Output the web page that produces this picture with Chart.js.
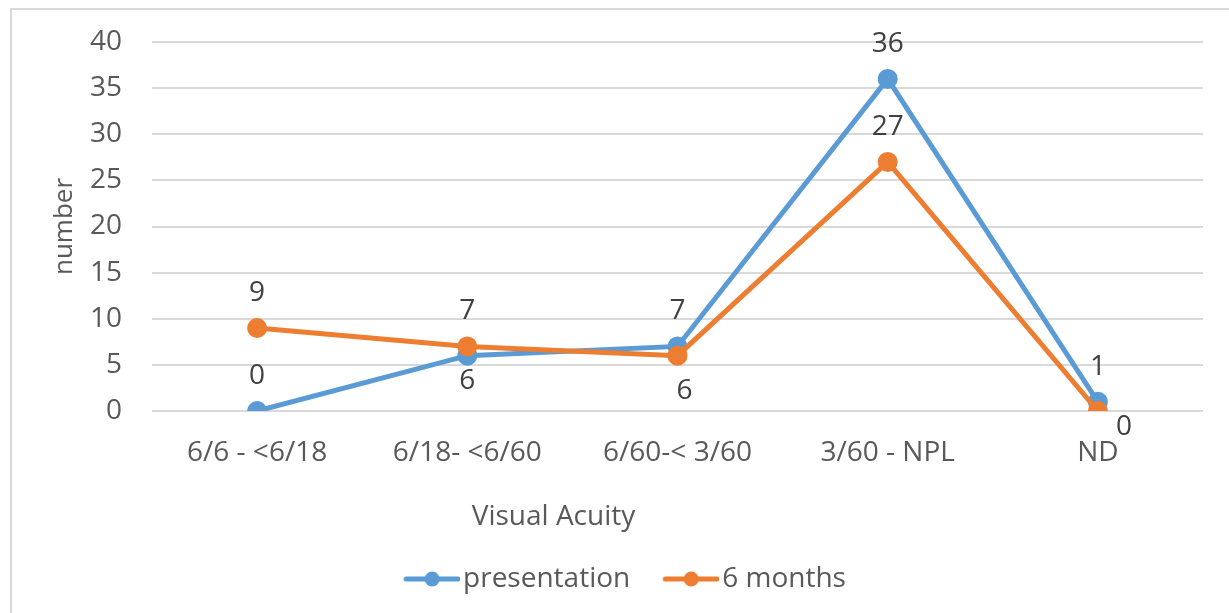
<!DOCTYPE html>
<html lang="en">
<head>
    <meta charset="UTF-8">
    <title>Visual Acuity</title>
    <script src="https://cdn.jsdelivr.net/npm/chart.js"></script>
    <style>
        body {
            margin: 0;
            background: #ffffff;
            overflow: hidden;
        }

        .chart-container {
            position: absolute;
            left: 10px;
            top: 8px;
            width: 1240px;
            height: 620px;
            border: 2px solid #d9d9d9;
        }
    </style>
</head>
<body>
    <div class="chart-container">
        <canvas id="acuityChart"></canvas>
    </div>

    <script>
        // chart data
        const categories = ['6/6 - <6/18', '6/18- <6/60', '6/60-< 3/60', '3/60 - NPL', 'ND'];
        const presentation = [0, 6, 7, 36, 1];
        const sixMonths = [9, 7, 6, 27, 0];
        const yTicks = [0, 5, 10, 15, 20, 25, 30, 35, 40];

        // where each value label sits next to its point
        const presentationLabelPos = ['top', 'bottom', 'top', 'top', 'top'];
        const sixMonthsLabelPos = ['top', 'top', 'bottomFar', 'top', 'bottomRight'];

        const FONT = "'Open Sans', sans-serif";

        // line-with-dot marker for the legend (drawn in the right part of the image
        // so it sits close to the text)
        function legendMarker(color) {
            const c = document.createElement('canvas');
            c.width = 70;
            c.height = 18;
            const g = c.getContext('2d');
            g.strokeStyle = color;
            g.lineWidth = 5;
            g.lineCap = 'round';
            g.beginPath();
            g.moveTo(16, 9);
            g.lineTo(68, 9);
            g.stroke();
            g.fillStyle = color;
            g.beginPath();
            g.arc(42, 9, 7.5, 0, Math.PI * 2);
            g.fill();
            return c;
        }

        // draws the numbers beside the points
        const valueLabels = {
            id: 'valueLabels',
            afterDatasetsDraw(chart) {
                const ctx = chart.ctx;
                ctx.save();
                ctx.font = '28px ' + FONT;
                ctx.fillStyle = '#404040';
                ctx.textAlign = 'center';
                ctx.textBaseline = 'middle';
                chart.data.datasets.forEach((ds, i) => {
                    const meta = chart.getDatasetMeta(i);
                    meta.data.forEach((pt, j) => {
                        const pos = ds.labelPos[j];
                        let x = pt.x, y = pt.y;
                        if (pos === 'top') y -= 35;
                        else if (pos === 'bottom') y += 25;
                        else if (pos === 'bottomFar') { x += 7; y += 35; }
                        else if (pos === 'bottomRight') { x += 26; y += 16; }
                        ctx.fillText(String(ds.data[j]), x, y);
                    });
                });
                ctx.restore();
            }
        };

        // x axis title, placed like the original (left of centre)
        const xTitle = {
            id: 'xTitle',
            afterDraw(chart) {
                const ctx = chart.ctx;
                const area = chart.chartArea;
                ctx.save();
                ctx.font = '28px ' + FONT;
                ctx.fillStyle = '#595959';
                ctx.textAlign = 'center';
                ctx.textBaseline = 'middle';
                ctx.fillText('Visual Acuity', area.left + area.width * 0.382, area.bottom + 106);
                ctx.restore();
            }
        };

        const ctx = document.getElementById('acuityChart').getContext('2d');
        new Chart(ctx, {
            type: 'line',
            data: {
                labels: categories,
                datasets: [{
                    label: 'presentation',
                    data: presentation,
                    labelPos: presentationLabelPos,
                    order: 1,
                    borderColor: '#5b9bd5',
                    backgroundColor: '#5b9bd5',
                    borderWidth: 5,
                    pointRadius: 7.5,
                    pointHoverRadius: 7.5
                }, {
                    label: '6 months',
                    data: sixMonths,
                    labelPos: sixMonthsLabelPos,
                    order: 0,   // drawn on top, as in the original
                    borderColor: '#ed7d31',
                    backgroundColor: '#ed7d31',
                    borderWidth: 5,
                    pointRadius: 7.5,
                    pointHoverRadius: 7.5
                }]
            },
            options: {
                responsive: true,
                maintainAspectRatio: false,
                animation: false,
                layout: {
                    padding: { top: 32, right: 49, bottom: 27, left: 32 }
                },
                plugins: {
                    tooltip: { enabled: false },
                    legend: {
                        position: 'bottom',
                        labels: {
                            usePointStyle: true,
                            pointStyleWidth: 48,
                            color: '#595959',
                            font: { family: FONT, size: 28 },
                            padding: 30,
                            generateLabels(chart) {
                                return chart.data.datasets.map((ds, i) => ({
                                    text: ds.label,
                                    pointStyle: legendMarker(ds.borderColor),
                                    fontColor: '#595959',
                                    strokeStyle: ds.borderColor,
                                    fillStyle: ds.borderColor,
                                    lineWidth: 0,
                                    hidden: false,
                                    datasetIndex: i
                                }));
                            }
                        }
                    }
                },
                scales: {
                    x: {
                        offset: true,
                        grid: { display: false, drawTicks: false },
                        border: { display: false },
                        ticks: {
                            color: '#595959',
                            font: { family: FONT, size: 28 },
                            padding: 25,
                            maxRotation: 0
                        },
                        afterFit(scale) { scale.height = 124; }
                    },
                    y: {
                        min: 0,
                        max: 40,
                        afterBuildTicks(scale) {
                            scale.ticks = yTicks.map(v => ({ value: v }));
                        },
                        grid: { color: '#d9d9d9', lineWidth: 2, drawTicks: false },
                        border: { display: false },
                        ticks: {
                            color: '#595959',
                            font: { family: FONT, size: 28 },
                            padding: 30
                        },
                        title: {
                            display: true,
                            text: 'number',
                            color: '#595959',
                            font: { family: FONT, size: 26 },
                            padding: { top: 5, bottom: 0 }
                        },
                        afterFit(scale) {
                            scale.width = 108;
                            // tick padding would otherwise push the plot top down
                            scale.paddingTop = 0;
                            scale.paddingBottom = 0;
                        }
                    }
                }
            },
            plugins: [valueLabels, xTitle]
        });
    </script>
</body>
</html>
